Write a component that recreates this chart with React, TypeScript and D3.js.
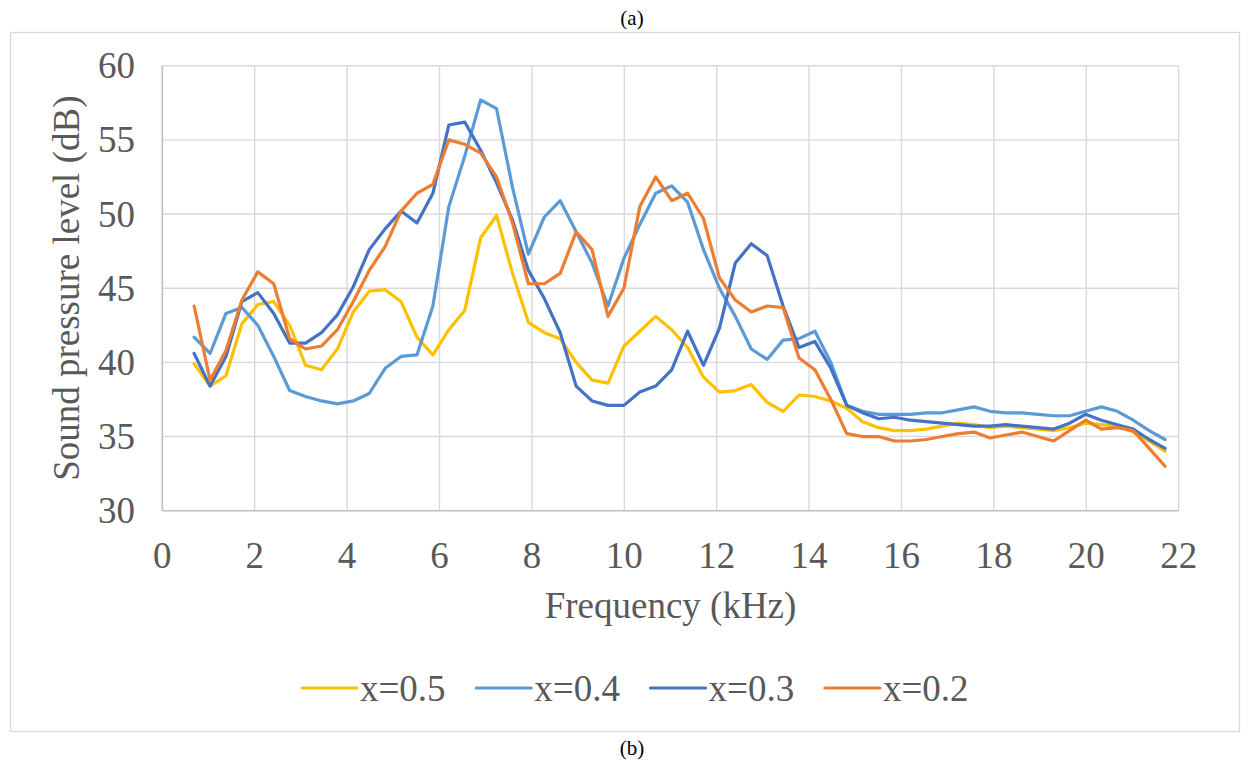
import * as d3 from 'd3';
import React from 'react';

// frequency bins (kHz)
const freqs = [
  0.689, 1.034, 1.378, 1.723, 2.067, 2.412, 2.756, 3.101, 3.445, 3.790,
  4.134, 4.479, 4.823, 5.168, 5.512, 5.857, 6.202, 6.546, 6.891, 7.235,
  7.580, 7.924, 8.269, 8.613, 8.958, 9.302, 9.647, 9.991, 10.336, 10.680,
  11.025, 11.370, 11.714, 12.059, 12.403, 12.748, 13.092, 13.437, 13.781, 14.126,
  14.470, 14.815, 15.159, 15.504, 15.848, 16.193, 16.538, 16.882, 17.227, 17.571,
  17.916, 18.260, 18.605, 18.949, 19.294, 19.638, 19.983, 20.327, 20.672, 21.016,
  21.361, 21.705,
];

const x05 = [
  39.9, 38.4, 39.1, 42.6, 43.9, 44.1, 42.5, 39.8, 39.5, 40.9,
  43.4, 44.8, 44.9, 44.1, 41.7, 40.5, 42.2, 43.5, 48.4, 49.9,
  46.0, 42.7, 42.0, 41.6, 40.0, 38.8, 38.6, 41.1, 42.1, 43.1,
  42.2, 41.0, 39.0, 38.0, 38.1, 38.5, 37.3, 36.7, 37.8, 37.7,
  37.4, 36.9, 36.0, 35.6, 35.4, 35.4, 35.5, 35.7, 35.9, 35.8,
  35.6, 35.7, 35.6, 35.5, 35.4, 35.6, 35.9, 35.8, 35.7, 35.3,
  34.7, 34.0,
];

const x04 = [
  41.7, 40.6, 43.3, 43.7, 42.5, 40.4, 38.1, 37.7, 37.4, 37.2,
  37.4, 37.9, 39.6, 40.4, 40.5, 43.8, 50.5, 53.9, 57.7, 57.1,
  51.8, 47.3, 49.8, 50.9, 48.8, 46.7, 43.8, 47.0, 49.3, 51.4,
  51.9, 50.8, 47.6, 45.0, 43.1, 40.9, 40.2, 41.5, 41.6, 42.1,
  40.0, 37.1, 36.7, 36.5, 36.5, 36.5, 36.6, 36.6, 36.8, 37.0,
  36.7, 36.6, 36.6, 36.5, 36.4, 36.4, 36.7, 37.0, 36.7, 36.1,
  35.4, 34.8,
];

const x03 = [
  40.6, 38.4, 40.4, 44.1, 44.7, 43.3, 41.3, 41.3, 42.0, 43.2,
  45.1, 47.6, 49.0, 50.2, 49.4, 51.4, 56.0, 56.2, 54.3, 52.1,
  49.6, 46.2, 44.3, 42.0, 38.4, 37.4, 37.1, 37.1, 38.0, 38.4,
  39.5, 42.1, 39.8, 42.3, 46.7, 48.0, 47.2, 43.8, 41.0, 41.4,
  39.6, 37.1, 36.6, 36.2, 36.3, 36.1, 36.0, 35.9, 35.8, 35.7,
  35.7, 35.8, 35.7, 35.6, 35.5, 35.9, 36.5, 36.1, 35.8, 35.5,
  34.8, 34.2,
];

const x02 = [
  43.8, 38.8, 40.8, 44.2, 46.1, 45.3, 41.6, 40.9, 41.1, 42.2,
  44.1, 46.2, 47.8, 50.2, 51.4, 52.0, 55.0, 54.7, 54.1, 52.5,
  49.4, 45.3, 45.3, 46.0, 48.8, 47.6, 43.1, 45.0, 50.5, 52.5,
  50.9, 51.4, 49.7, 45.7, 44.2, 43.4, 43.8, 43.7, 40.3, 39.5,
  37.5, 35.2, 35.0, 35.0, 34.7, 34.7, 34.8, 35.0, 35.2, 35.3,
  34.9, 35.1, 35.3, 35.0, 34.7, 35.4, 36.1, 35.5, 35.6, 35.4,
  34.2, 33.0,
];

const seriesNames = ['x=0.5', 'x=0.4', 'x=0.3', 'x=0.2'];
const seriesValues = [x05, x04, x03, x02];
const seriesColors = ['#FFC000', '#5B9BD5', '#4472C4', '#ED7D31'];

const xTicks = [0, 2, 4, 6, 8, 10, 12, 14, 16, 18, 20, 22];
const yTicks = [30, 35, 40, 45, 50, 55, 60];

const W = 1250;
const H = 763;
const font = '"Liberation Serif", "Times New Roman", serif';
const textColor = '#595959';

export default function App() {
  const x = d3.scaleLinear().domain([0, 22]).range([162.3, 1178.7]);
  const y = d3.scaleLinear().domain([30, 60]).range([510.7, 65.7]);

  const line = d3.line<number>()
    .x((_, i) => x(freqs[i]))
    .y(d => y(d));

  const legendX = d3.scaleLinear().domain([0, 1]).range([302, 476.3]);

  return (
    <svg width={W} height={H} style={{ position: 'absolute', left: 0, top: 0, background: '#fff' }}>
      <rect x={0} y={0} width={W} height={H} fill="#fff" />
      <text x={632} y={25} fontFamily={font} fontSize={21} textAnchor="middle" fill="#000">(a)</text>
      <rect x={10.5} y={32.5} width={1229} height={699} fill="#fff" stroke="#d9d9d9" strokeWidth={1.3} />

      {/* grid */}
      <g stroke="#d9d9d9" strokeWidth={1.4}>
        {yTicks.filter(t => t !== 30).map(t => (
          <line key={'gy' + t} x1={x(0)} x2={x(22)} y1={y(t)} y2={y(t)} />
        ))}
        {xTicks.filter(t => t !== 0).map(t => (
          <line key={'gx' + t} x1={x(t)} x2={x(t)} y1={y(30)} y2={y(60)} />
        ))}
      </g>
      {/* axes */}
      <g stroke="#bfbfbf" strokeWidth={1.6}>
        <line x1={x(0)} x2={x(22)} y1={y(30)} y2={y(30)} />
        <line x1={x(0)} x2={x(0)} y1={y(30)} y2={y(60)} />
      </g>

      {/* series */}
      <g fill="none" strokeWidth={3.2} strokeLinejoin="round" strokeLinecap="round">
        {seriesValues.map((vals, i) => (
          <path key={seriesNames[i]} d={line(vals) || ''} stroke={seriesColors[i]} />
        ))}
      </g>

      {/* tick labels */}
      <g fontFamily={font} fontSize={37} fill={textColor}>
        {yTicks.map(t => (
          <text key={'ty' + t} x={135} y={y(t)} dy="0.34em" textAnchor="end">{t}</text>
        ))}
        {xTicks.map(t => (
          <text key={'tx' + t} x={x(t)} y={567.5} textAnchor="middle">{t}</text>
        ))}
      </g>

      {/* axis titles */}
      <text x={(x(0) + x(22)) / 2} y={618} fontFamily={font} fontSize={37} fill={textColor} textAnchor="middle">
        Frequency (kHz)
      </text>
      <text transform={`translate(79,${(y(30) + y(60)) / 2}) rotate(-90)`} fontFamily={font} fontSize={37} fill={textColor} textAnchor="middle">
        Sound pressure level (dB)
      </text>

      {/* legend */}
      <g>
        {seriesNames.map((n, i) => (
          <g key={'lg' + n} transform={`translate(${legendX(i)},688)`}>
            <line x1={0} x2={55} y1={0} y2={0} stroke={seriesColors[i]} strokeWidth={3.2} strokeLinecap="round" />
            <text x={58} y={12.5} fontFamily={font} fontSize={37} fill={textColor}>{n}</text>
          </g>
        ))}
      </g>

      <text x={632} y={755} fontFamily={font} fontSize={21} textAnchor="middle" fill="#000">(b)</text>
    </svg>
  );
}
